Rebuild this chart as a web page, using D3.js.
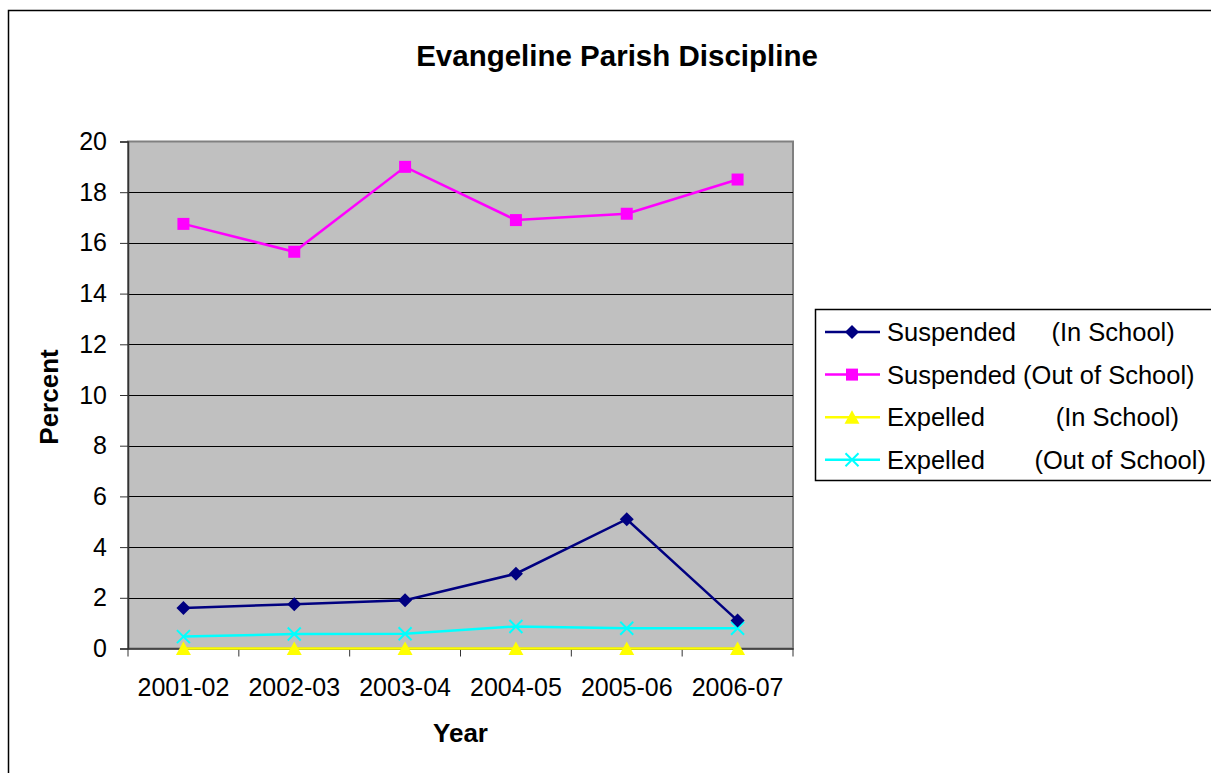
<!DOCTYPE html>
<html>
<head>
<meta charset="utf-8">
<script src="https://cdn.jsdelivr.net/npm/d3@7"></script>
<style>
  body { margin: 0; background: #fff; }
  svg { font-family: "Liberation Sans", Arial, sans-serif; }
  .legend text { white-space: pre; }
</style>
</head>
<body>
<div id="chart"></div>
<script>
// data
const years = ["2001-02", "2002-03", "2003-04", "2004-05", "2005-06", "2006-07"];
const suspendedIn = [1.6, 1.75, 1.9, 2.95, 5.1, 1.1];
const suspendedOut = [16.75, 15.65, 19.0, 16.9, 17.15, 18.5];
const expelledIn = [0, 0, 0, 0, 0, 0];
const expelledOut = [0.47, 0.57, 0.58, 0.87, 0.8, 0.8];
const yTicks = [0, 2, 4, 6, 8, 10, 12, 14, 16, 18, 20];
const seriesNames = [
    "Suspended     (In School)",
    "Suspended (Out of School)",
    "Expelled          (In School)",
    "Expelled       (Out of School)"
];

const W = 1211, H = 773;
const plot = { left: 128, right: 793, top: 141.5, bottom: 648.5 };

const svg = d3.select("#chart")
    .append("svg")
    .attr("width", W)
    .attr("height", H);

// chart frame (runs off the page on right and bottom)
svg.append("rect")
    .attr("x", 8.5).attr("y", 10.5)
    .attr("width", W + 20).attr("height", H + 20)
    .attr("fill", "#fff")
    .attr("stroke", "#000")
    .attr("stroke-width", 1.5);

const x = d3.scaleBand()
    .domain(years)
    .range([plot.left, plot.right]);

const y = d3.scaleLinear()
    .domain([0, 20])
    .range([plot.bottom, plot.top]);

// plot area
svg.append("rect")
    .attr("x", plot.left).attr("y", plot.top)
    .attr("width", plot.right - plot.left)
    .attr("height", plot.bottom - plot.top)
    .attr("fill", "#c0c0c0")
    .attr("stroke", "#808080")
    .attr("stroke-width", 2);

// gridlines
svg.append("g")
    .selectAll("line")
    .data(yTicks.filter(d => d > 0 && d < 20))
    .join("line")
    .attr("x1", plot.left).attr("x2", plot.right)
    .attr("y1", d => Math.round(y(d)) + 0.5)
    .attr("y2", d => Math.round(y(d)) + 0.5)
    .attr("stroke", "#000")
    .attr("stroke-width", 1);

// Y axis
const yAxis = svg.append("g")
    .attr("transform", `translate(${plot.left},0)`)
    .call(d3.axisLeft(y).tickValues(yTicks).tickSize(8).tickPadding(13));
yAxis.selectAll("text")
    .style("font-size", "25px")
    .attr("fill", "#000")
    .style("font-family", "Liberation Sans, Arial, sans-serif");
yAxis.selectAll("line").attr("stroke", "#333");
yAxis.select(".domain").attr("stroke", "#333").attr("stroke-width", 1.5);

// X axis: ticks at category boundaries
const xAxis = svg.append("g")
    .attr("transform", `translate(0,${plot.bottom})`)
    .call(d3.axisBottom(x).tickSize(0).tickPadding(30));
xAxis.selectAll("text")
    .style("font-size", "25px")
    .attr("fill", "#000")
    .style("font-family", "Liberation Sans, Arial, sans-serif");
xAxis.select(".domain").attr("stroke", "#333").attr("stroke-width", 1.5);
xAxis.selectAll(".bound")
    .data(years.map(d => x(d)).concat([plot.right]))
    .join("line")
    .attr("class", "bound")
    .attr("x1", d => d).attr("x2", d => d)
    .attr("y1", 0).attr("y2", 8)
    .attr("stroke", "#333");

// marker shapes
const markers = {
    diamond: "M0,-7L7,0L0,7L-7,0Z",
    square: "M-6,-6H6V6H-6Z",
    triangle: "M0,-7L7.5,6.5H-7.5Z",
    cross: "M-6.5,-6.5L6.5,6.5M6.5,-6.5L-6.5,6.5"
};

const series = [
    { name: seriesNames[0], values: suspendedIn, color: "#000080", marker: "diamond" },
    { name: seriesNames[1], values: suspendedOut, color: "#ff00ff", marker: "square" },
    { name: seriesNames[2], values: expelledIn, color: "#ffff00", marker: "triangle" },
    { name: seriesNames[3], values: expelledOut, color: "#00ffff", marker: "cross" }
];

const line = d3.line()
    .x((d, i) => x(years[i]) + x.bandwidth() / 2)
    .y(d => y(d));

function drawMarker(sel, s) {
    sel.attr("d", markers[s.marker]);
    if (s.marker === "cross") {
        sel.attr("fill", "none").attr("stroke", s.color).attr("stroke-width", 2);
    } else {
        sel.attr("fill", s.color).attr("stroke", "none");
    }
}

// draw series in reverse so navy/magenta sit on top
series.slice().reverse().forEach(s => {
    const g = svg.append("g");
    g.append("path")
        .datum(s.values)
        .attr("d", line)
        .attr("fill", "none")
        .attr("stroke", s.color)
        .attr("stroke-width", 2.5);
    g.selectAll("path.mk")
        .data(s.values)
        .join("path")
        .attr("class", "mk")
        .attr("transform", (d, i) => `translate(${x(years[i]) + x.bandwidth() / 2},${y(d)})`)
        .call(drawMarker, s);
});

// title
svg.append("text")
    .attr("x", 617).attr("y", 66)
    .attr("text-anchor", "middle")
    .style("font-size", "29.5px")
    .style("font-weight", "bold")
    .text("Evangeline Parish Discipline");

// axis titles
svg.append("text")
    .attr("x", (plot.left + plot.right) / 2).attr("y", 742)
    .attr("text-anchor", "middle")
    .style("font-size", "26px")
    .style("font-weight", "bold")
    .text("Year");

svg.append("text")
    .attr("transform", "translate(58,397) rotate(-90)")
    .attr("text-anchor", "middle")
    .style("font-size", "26px")
    .style("font-weight", "bold")
    .text("Percent");

// legend
const legend = svg.append("g").attr("class", "legend");
legend.append("rect")
    .attr("x", 815.5).attr("y", 309.5)
    .attr("width", 420).attr("height", 171)
    .attr("fill", "#fff")
    .attr("stroke", "#000")
    .attr("stroke-width", 1.5);

const rows = legend.selectAll("g.row")
    .data(series)
    .join("g")
    .attr("class", "row")
    .attr("transform", (d, i) => `translate(0,${332 + i * 42.6})`);

rows.append("line")
    .attr("x1", 825).attr("x2", 880)
    .attr("stroke", d => d.color)
    .attr("stroke-width", 2.5);

rows.append("path")
    .attr("transform", "translate(852,0)")
    .each(function (d) { d3.select(this).call(drawMarker, d); });

rows.append("text")
    .attr("x", 887)
    .attr("dy", "0.35em")
    .style("font-size", "25.5px")
    .text(d => d.name);
</script>
</body>
</html>
